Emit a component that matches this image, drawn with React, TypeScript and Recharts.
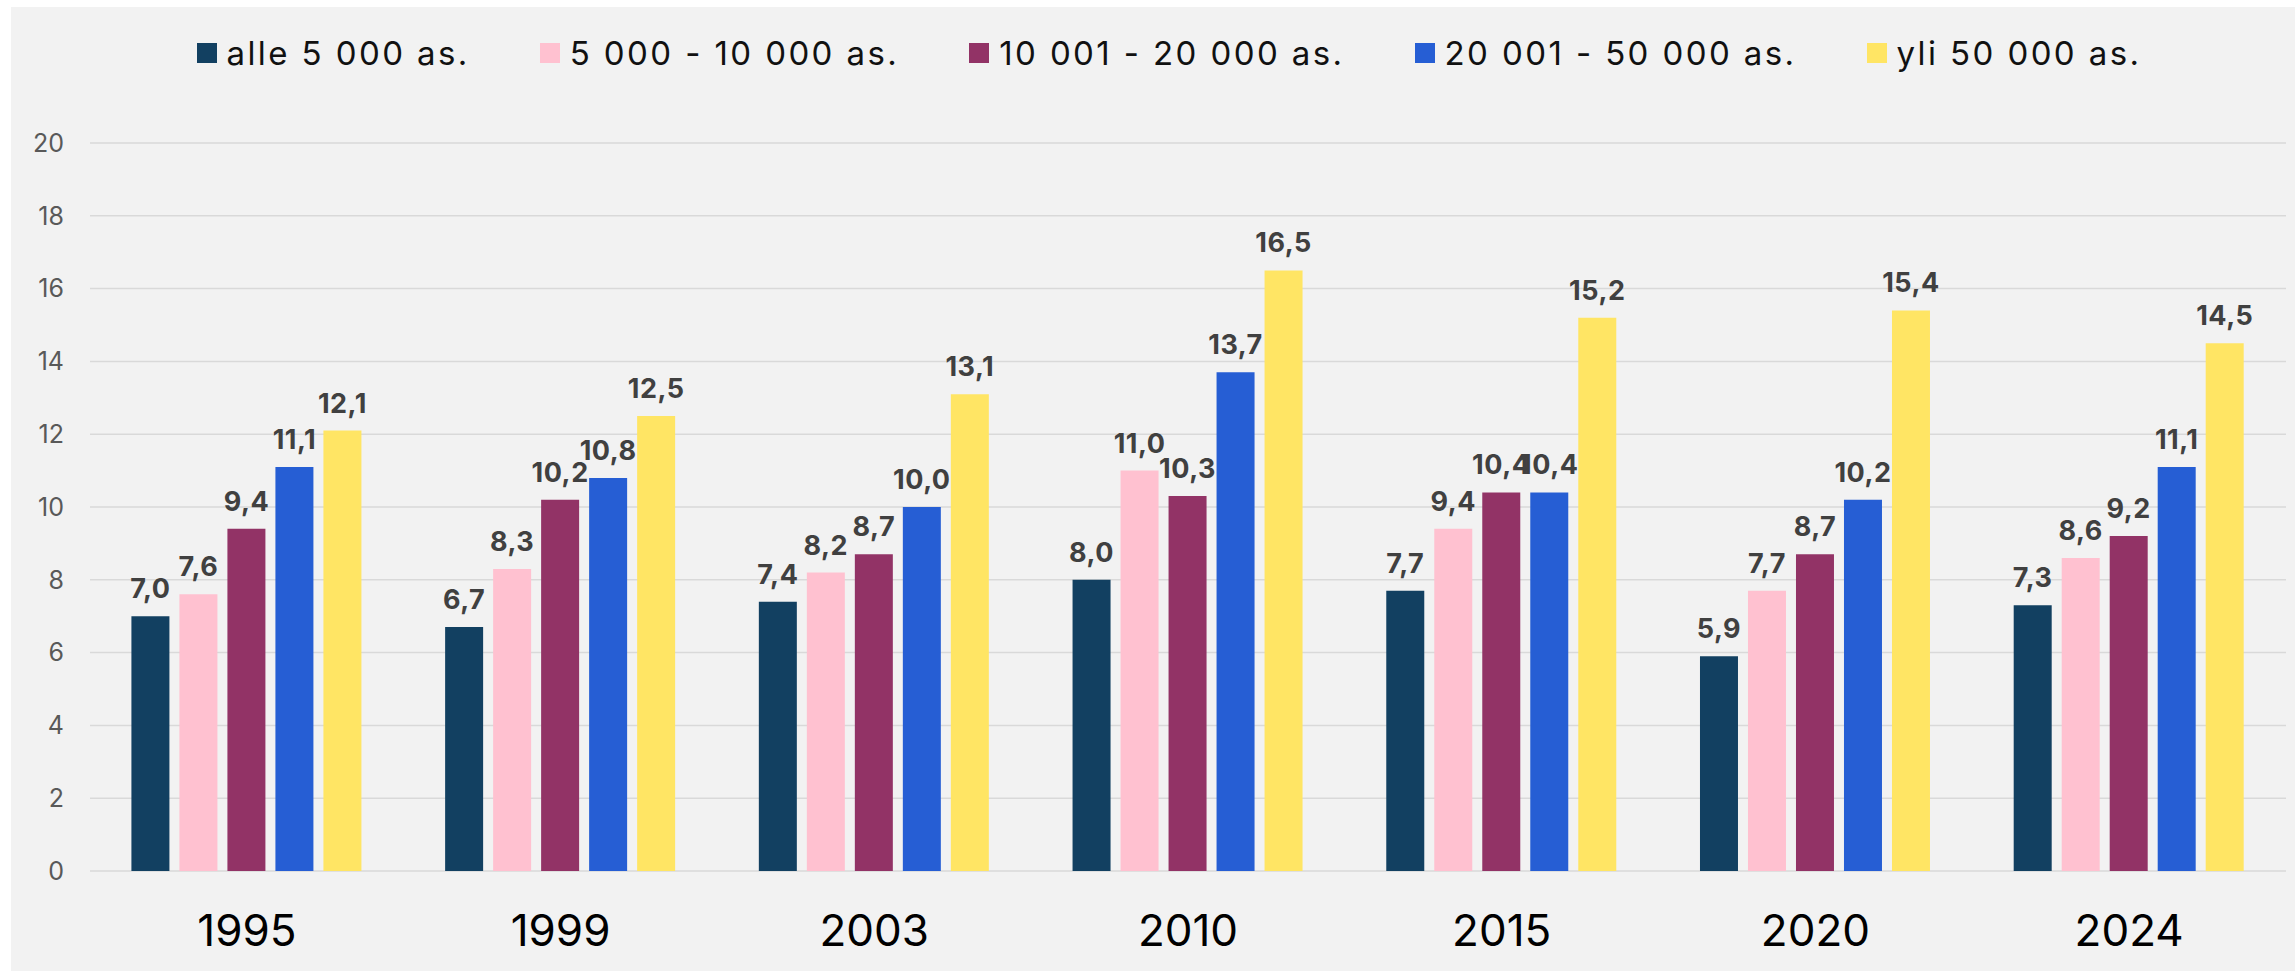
import { BarChart, Bar, XAxis, YAxis, CartesianGrid, Legend, LabelList } from "recharts";

const years = ["1995", "1999", "2003", "2010", "2015", "2020", "2024"];

const alle5000 = [7.0, 6.7, 7.4, 8.0, 7.7, 5.9, 7.3];
const from5000to10000 = [7.6, 8.3, 8.2, 11.0, 9.4, 7.7, 8.6];
const from10001to20000 = [9.4, 10.2, 8.7, 10.3, 10.4, 8.7, 9.2];
const from20001to50000 = [11.1, 10.8, 10.0, 13.7, 10.4, 10.2, 11.1];
const yli50000 = [12.1, 12.5, 13.1, 16.5, 15.2, 15.4, 14.5];

const yTicks = [0, 2, 4, 6, 8, 10, 12, 14, 16, 18, 20];

const series = [
    { key: "a", name: "alle 5 000 as.", color: "#124061", values: alle5000 },
    { key: "b", name: "5 000 - 10 000 as.", color: "#ffc1d0", values: from5000to10000 },
    { key: "c", name: "10 001 - 20 000 as.", color: "#923366", values: from10001to20000 },
    { key: "d", name: "20 001 - 50 000 as.", color: "#265ed4", values: from20001to50000 },
    { key: "e", name: "yli 50 000 as.", color: "#ffe564", values: yli50000 },
];

const data = years.map((year, i) => {
    const row: Record<string, string | number> = { year };
    series.forEach((s) => {
        row[s.key] = s.values[i];
    });
    return row;
});

const FONT = "Inter, 'DejaVu Sans', sans-serif";

const fmt = (v: any) => Number(v).toFixed(1).replace(".", ",");

function LegendContent() {
    return (
        <div
            style={{
                height: 136,
                boxSizing: "border-box",
                paddingTop: 26,
                paddingLeft: 41,
                display: "flex",
                justifyContent: "center",
                alignItems: "flex-start",
                fontFamily: FONT,
            }}
        >
            {series.map((s, i) => (
                <div
                    key={s.key}
                    style={{
                        display: "flex",
                        alignItems: "center",
                        height: 40,
                        marginRight: i < series.length - 1 ? 70 : 0,
                    }}
                >
                    <span
                        style={{
                            display: "inline-block",
                            width: 20,
                            height: 20,
                            background: s.color,
                            marginRight: 10,
                        }}
                    />
                    <span style={{ fontSize: 33, color: "#111", letterSpacing: 2.4, whiteSpace: "nowrap" }}>
                        {s.name}
                    </span>
                </div>
            ))}
        </div>
    );
}

export default function App() {
    return (
        <div
            style={{
                position: "absolute",
                left: 11,
                top: 7,
                width: 2284,
                height: 964,
                background: "#f2f2f2",
            }}
        >
            <BarChart
                width={2284}
                height={964}
                data={data}
                margin={{ top: 0, right: 9, bottom: 0, left: 0 }}
                barCategoryGap="13.2%"
                barGap={10}
            >
                <CartesianGrid vertical={false} stroke="#d9d9d9" strokeWidth={1.5} />
                <XAxis
                    dataKey="year"
                    height={100}
                    tickLine={false}
                    axisLine={false}
                    tickMargin={38}
                    tick={{ fontSize: 44, fill: "#000", fontFamily: FONT }}
                />
                <YAxis
                    width={79}
                    domain={[0, 20]}
                    ticks={yTicks}
                    tickLine={false}
                    axisLine={false}
                    tickMargin={20}
                    tick={{ fontSize: 25, fill: "#595959", fontFamily: FONT }}
                />
                <Legend verticalAlign="top" content={<LegendContent />} />
                {series.map((s) => (
                    <Bar key={s.key} dataKey={s.key} name={s.name} fill={s.color} isAnimationActive={false}>
                        <LabelList
                            dataKey={s.key}
                            position="top"
                            offset={18}
                            formatter={fmt}
                            style={{ fontSize: 27, fontWeight: 700, fill: "#404040", fontFamily: FONT, letterSpacing: 0.5 }}
                        />
                    </Bar>
                ))}
            </BarChart>
        </div>
    );
}
